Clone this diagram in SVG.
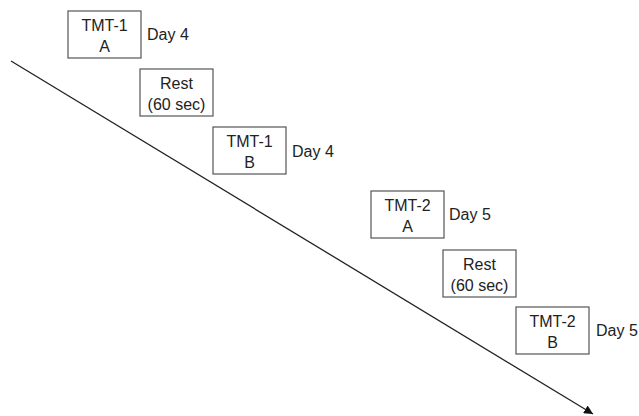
<svg xmlns="http://www.w3.org/2000/svg" width="639" height="416" viewBox="0 0 639 416">
<defs>
<style>
.box{fill:#fff;stroke:#555;stroke-width:1.2}
.t{font-family:"Liberation Sans",Arial,sans-serif;font-size:16px;fill:#222}
.c{text-anchor:middle}
.line{stroke:#222;stroke-width:1.3;fill:none}
</style>
<marker id="ah" viewBox="0 0 10 10" refX="10" refY="5" markerWidth="9" markerHeight="9" markerUnits="userSpaceOnUse" orient="auto">
<path d="M0,0 L10,5 L0,10 z" fill="#111"/>
</marker>
</defs>
<rect width="639" height="416" fill="#fff"/>
<g id="connectors">
<line class="line" x1="11" y1="61" x2="593" y2="414" marker-end="url(#ah)"/>
</g>
<g id="n1">
<rect class="box" x="68" y="11" width="73" height="47"/>
<text class="t c" x="104.5" y="31">TMT-1</text>
<text class="t c" x="104.5" y="52">A</text>
<text class="t" x="147" y="40">Day 4</text>
</g>
<g id="n2">
<rect class="box" x="140" y="69" width="73" height="47"/>
<text class="t c" x="176.5" y="89">Rest</text>
<text class="t c" x="176.5" y="110">(60 sec)</text>
</g>
<g id="n3">
<rect class="box" x="213" y="127" width="73" height="47"/>
<text class="t c" x="249.5" y="147">TMT-1</text>
<text class="t c" x="249.5" y="168">B</text>
<text class="t" x="292" y="157">Day 4</text>
</g>
<g id="n4">
<rect class="box" x="371" y="191" width="73" height="47"/>
<text class="t c" x="407.5" y="211">TMT-2</text>
<text class="t c" x="407.5" y="232">A</text>
<text class="t" x="449" y="220">Day 5</text>
</g>
<g id="n5">
<rect class="box" x="443" y="250" width="73" height="47"/>
<text class="t c" x="479.5" y="270">Rest</text>
<text class="t c" x="479.5" y="291">(60 sec)</text>
</g>
<g id="n6">
<rect class="box" x="516" y="307" width="73" height="47"/>
<text class="t c" x="552.5" y="327">TMT-2</text>
<text class="t c" x="552.5" y="348">B</text>
<text class="t" x="596" y="336">Day 5</text>
</g>
</svg>
